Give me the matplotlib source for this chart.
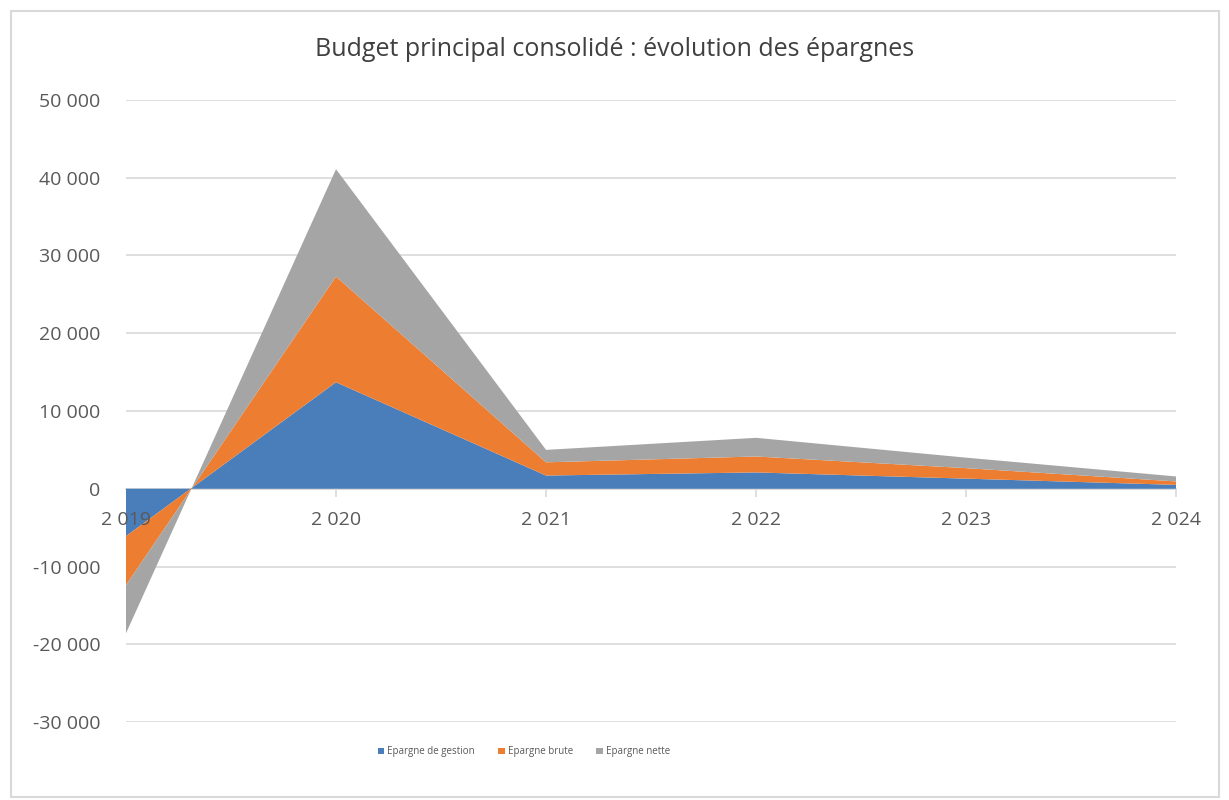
import matplotlib.pyplot as plt
from matplotlib.patches import Rectangle
from matplotlib.ticker import FuncFormatter

plt.rcParams['font.family'] = ['Open Sans', 'DejaVu Sans']

annees = [2019, 2020, 2021, 2022, 2023, 2024]
epargne_gestion = [-6100, 13700, 1700, 2100, 1300, 500]
epargne_brute = [-6300, 13600, 1700, 2050, 1350, 440]
epargne_nette = [-6200, 13800, 1600, 2400, 1350, 640]
series_noms = ['Epargne de gestion', 'Epargne brute', 'Epargne nette']
couleurs = ['#4a7ebb', '#ed7d31', '#a5a5a5']
graduations_y = list(range(-30000, 50001, 10000))


def fmt_milliers(v, pos=None):
    s = '{:,.0f}'.format(abs(v)).replace(',', ' ')
    return ('-' if v < 0 else '') + s


fig = plt.figure(figsize=(12.29, 8), dpi=100)
fig.patches.append(Rectangle((0.009, 0.004), 0.983, 0.982, transform=fig.transFigure,
                             fill=False, edgecolor='#d9d9d9', linewidth=1.5))
ax = fig.add_axes([0.1025, 0.0975, 0.8545, 0.7775])

# quadrillage derrière les aires, étiquettes devant
for g in graduations_y:
    ax.axhline(g, color='#d9d9d9', linewidth=1.2, zorder=0)
ax.stackplot(annees, epargne_gestion, epargne_brute, epargne_nette,
             colors=couleurs, labels=series_noms, linewidth=0, zorder=1)
ax.xaxis.set_zorder(5)
ax.yaxis.set_zorder(5)

ax.set_xlim(annees[0], annees[-1])
ax.set_ylim(-30000, 50000)
ax.set_yticks(graduations_y)
ax.yaxis.set_major_formatter(FuncFormatter(fmt_milliers))
ax.tick_params(axis='y', length=0, labelsize=14, labelcolor='#595959', pad=18.5)

# axe des x qui croise à 0
ax.spines['bottom'].set_position(('data', 0))
for s in ['top', 'right', 'left']:
    ax.spines[s].set_visible(False)
ax.spines['bottom'].set_color('#d9d9d9')
ax.spines['bottom'].set_linewidth(1.2)
ax.spines['bottom'].set_zorder(0.5)
ax.set_xticks(annees)
ax.set_xticklabels([fmt_milliers(a) for a in annees])
ax.tick_params(axis='x', direction='out', length=6, color='#d9d9d9', width=1.2,
               labelsize=14, labelcolor='#595959', pad=10)
ax.xaxis.get_major_ticks()[0].tick1line.set_visible(False)

fig.suptitle('Budget principal consolidé : évolution des épargnes', y=0.9375, va='center',
             fontsize=18, color='#404040')

ax.legend(loc='center', bbox_to_anchor=(0.379, -0.048), ncol=3, frameon=False,
          fontsize=7, handlelength=0.7, handleheight=0.7, handletextpad=0.3,
          columnspacing=2.4, labelcolor='#595959')

plt.savefig('out.png', dpi=100)
